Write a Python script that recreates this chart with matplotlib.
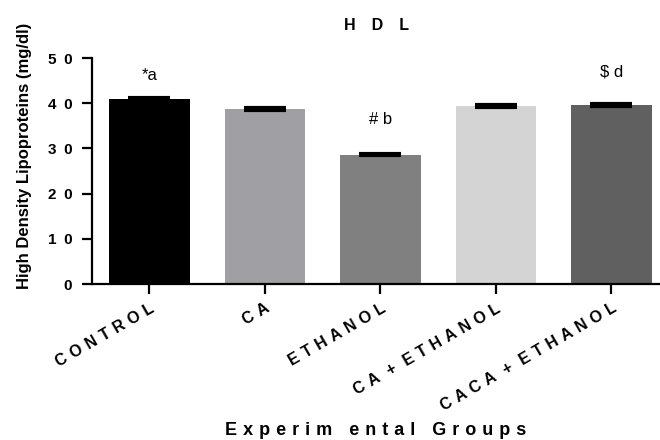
import matplotlib
matplotlib.use("Agg")
import matplotlib.pyplot as plt

plt.rcParams['font.family'] = ['Liberation Sans', 'DejaVu Sans']

# data
groups = ["CONTROL", "CA", "ETHANOL", "CA + ETHANOL", "CACA + ETHANOL"]
hdl = [41.0, 38.7, 28.6, 39.4, 39.6]
sem = [0.15, 0.2, 0.15, 0.15, 0.15]
colors = ["#000000", "#a0a0a4", "#808080", "#d4d4d4", "#606060"]
marks = ["*a", "", "# b", "", "$ d"]
mark_gap = [5.2, 0, 7.7, 0, 7.3]
yticks = [0, 10, 20, 30, 40, 50]

EN = "\u2002"
TPE = "\u2004"  # three-per-em space


def spaced(s, gap=EN, word_gap=EN):
    # GraphPad-style letter spacing
    return word_gap.join(gap.join(w) for w in s.split())


fig = plt.figure(figsize=(6.6, 4.4), dpi=100)
ax = fig.add_axes([0.139, 0.3545, 0.861, 0.5136])

x = list(range(len(groups)))
ax.bar(x, hdl, width=0.7, color=colors, zorder=2)
ax.errorbar(x, hdl, yerr=sem, fmt="none", ecolor="black", elinewidth=2,
            capsize=15, capthick=3, zorder=3)

# significance letters above bars
for xi, h, m, g in zip(x, hdl, marks, mark_gap):
    if m:
        ax.text(xi, h + g, m, ha="center", va="center", fontsize=12)

ax.set_xlim(-0.5, 4.42)
ax.set_ylim(0, 50)
ax.set_yticks(yticks)
ax.set_yticklabels([spaced(str(t)) for t in yticks], fontweight="bold", fontsize=11)
ax.set_xticks(x)
ax.set_xticklabels([spaced(g, TPE, TPE + " ") for g in groups], rotation=30, ha="right",
                   rotation_mode="anchor", fontweight="bold", fontsize=11.5)

for s in ["top", "right"]:
    ax.spines[s].set_visible(False)
for s in ["left", "bottom"]:
    ax.spines[s].set_linewidth(1.6)
ax.tick_params(axis="both", length=7, width=1.6)
ax.tick_params(axis="y", pad=7)
ax.tick_params(axis="x", pad=5)

ax.set_ylabel("High Density Lipoproteins (mg/dl)", fontweight="bold", fontsize=12)
ax.yaxis.set_label_coords(-0.105, 0.566)
ax.set_xlabel(spaced("Experim ental Groups", TPE, TPE + TPE + " "), fontweight="bold", fontsize=13)
ax.xaxis.set_label_coords(0.5, -0.61)

fig.text(0.571, 0.943, "H\u2003D\u2003L", ha="center", va="center",
         fontweight="bold", fontsize=11.5)

fig.savefig("out.png", dpi=100)
